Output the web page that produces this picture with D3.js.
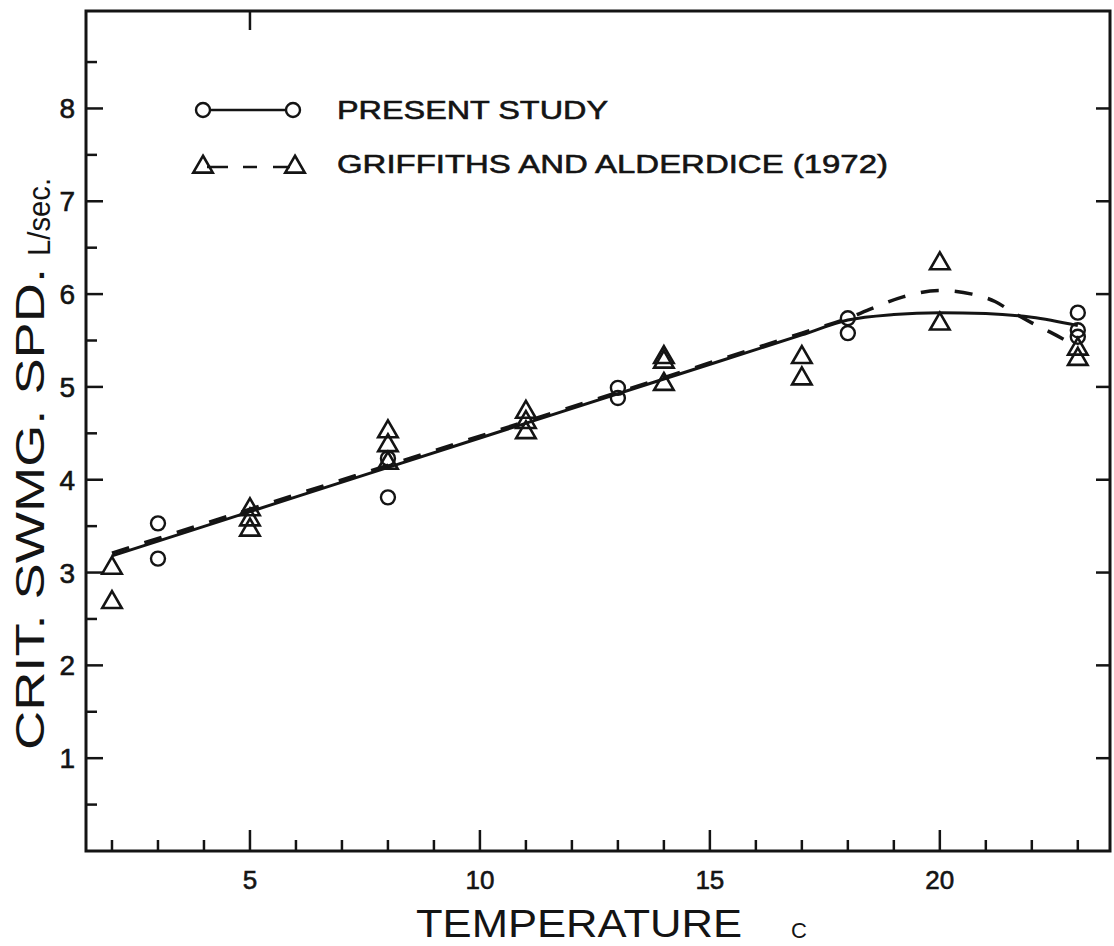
<!DOCTYPE html>
<html>
<head>
<meta charset="utf-8">
<script src="https://cdn.jsdelivr.net/npm/d3@7"></script>
<style>
  body { margin: 0; background: #fff; }
  svg text { font-family: "Liberation Sans", Arial, sans-serif; fill: #141414; }
  svg text.lbl { stroke: #141414; stroke-width: 0.6px; }
</style>
</head>
<body>
<div class="canvas"></div>
<script>
// critical swimming speed vs temperature
const presentTemp  = [3, 3, 8, 8, 13, 13, 18, 18, 23, 23, 23];
const presentSpeed = [3.53, 3.15, 4.23, 3.81, 4.99, 4.88, 5.74, 5.58, 5.80, 5.61, 5.54];

const griffTemp  = [2, 2, 5, 5, 5, 8, 8, 8, 11, 11, 11, 14, 14, 14, 17, 17, 20, 20, 23, 23];
const griffSpeed = [3.07, 2.70, 3.70, 3.59, 3.48, 4.54, 4.39, 4.20, 4.75, 4.64, 4.53,
                    5.34, 5.29, 5.05, 5.34, 5.11, 6.35, 5.70, 5.43, 5.32];

// fitted curves
const presentCurveT = [2, 6, 10, 14, 17, 18, 19, 20, 21, 22, 23];
const presentCurveV = [3.18, 3.815, 4.45, 5.085, 5.56, 5.72, 5.78, 5.80, 5.79, 5.75, 5.66];
const griffCurveT = [2, 6, 10, 14, 17, 18, 18.5, 19.2, 20, 20.7, 21.2, 21.6, 22, 22.4, 23];
const griffCurveV = [3.21, 3.84, 4.47, 5.10, 5.58, 5.74, 5.84, 5.97, 6.04, 6.0, 5.92, 5.80, 5.69, 5.59, 5.43];

const xMajor = [5, 10, 15, 20];
const xMinor = d3.range(2, 24);
const yMajor = [1, 2, 3, 4, 5, 6, 7, 8];
const yMinor = d3.range(0.5, 9, 0.5);

const legendNames = ['PRESENT  STUDY', 'GRIFFITHS  AND  ALDERDICE  (1972)'];

const ink = '#141414';
const dims = { width: 1114, height: 946 };
const plot = { left: 86, right: 1110, top: 11, bottom: 851 };

const svg = d3.select('.canvas')
    .append('svg')
    .attr('width', dims.width)
    .attr('height', dims.height);

const x = d3.scaleLinear().domain([1.435, 23.7]).range([plot.left, plot.right]);
const y = d3.scaleLinear().domain([0, 9.05]).range([plot.bottom, plot.top]);

// frame
svg.append('rect')
    .attr('x', plot.left).attr('y', plot.top)
    .attr('width', plot.right - plot.left)
    .attr('height', plot.bottom - plot.top)
    .attr('fill', 'none')
    .attr('stroke', ink)
    .attr('stroke-width', 3);

// bottom ticks, pointing up into the plot
svg.append('g').selectAll('line')
    .data(xMinor)
    .join('line')
    .attr('x1', d => x(d)).attr('x2', d => x(d))
    .attr('y1', plot.bottom)
    .attr('y2', d => plot.bottom - (xMajor.includes(d) ? 21 : 11))
    .attr('stroke', ink).attr('stroke-width', 2.5);

// single top tick at 5
svg.append('line')
    .attr('x1', x(5)).attr('x2', x(5))
    .attr('y1', plot.top).attr('y2', plot.top + 19)
    .attr('stroke', ink).attr('stroke-width', 2.5);

svg.append('g').selectAll('text')
    .data(xMajor)
    .join('text')
    .attr('class', 'lbl')
    .attr('x', d => x(d))
    .attr('y', 889)
    .attr('text-anchor', 'middle')
    .attr('font-size', 26)
    .text(d => d);

// left ticks
svg.append('g').selectAll('line')
    .data(yMinor)
    .join('line')
    .attr('x1', plot.left)
    .attr('x2', d => plot.left + (Number.isInteger(d) ? 17 : 11))
    .attr('y1', d => y(d)).attr('y2', d => y(d))
    .attr('stroke', ink).attr('stroke-width', 2.5);

// right ticks
svg.append('g').selectAll('line')
    .data(yMajor)
    .join('line')
    .attr('x1', plot.right)
    .attr('x2', plot.right - 14)
    .attr('y1', d => y(d)).attr('y2', d => y(d))
    .attr('stroke', ink).attr('stroke-width', 2.5);

svg.append('g').selectAll('text')
    .data(yMajor)
    .join('text')
    .attr('class', 'lbl')
    .attr('x', 75)
    .attr('y', d => y(d) + 10)
    .attr('text-anchor', 'end')
    .attr('font-size', 28)
    .text(d => d);

// axis titles
svg.append('text')
    .attr('x', 416).attr('y', 937)
    .attr('font-size', 38)
    .attr('textLength', 326)
    .attr('lengthAdjust', 'spacingAndGlyphs')
    .text('TEMPERATURE');

svg.append('text')
    .attr('x', 799).attr('y', 938)
    .attr('text-anchor', 'middle')
    .attr('font-size', 22)
    .text('C');

svg.append('text')
    .attr('transform', 'translate(44,750) rotate(-90)')
    .attr('font-size', 41)
    .attr('textLength', 482)
    .attr('lengthAdjust', 'spacingAndGlyphs')
    .text('CRIT.  SWMG.  SPD.');

svg.append('text')
    .attr('transform', 'translate(50,256) rotate(-90)')
    .attr('font-size', 32)
    .attr('textLength', 78)
    .attr('lengthAdjust', 'spacingAndGlyphs')
    .text('L/sec.');

// curves
const line = d3.line()
    .x(d => x(d[0]))
    .y(d => y(d[1]))
    .curve(d3.curveMonotoneX);

svg.append('path')
    .attr('d', line(d3.zip(presentCurveT, presentCurveV)))
    .attr('fill', 'none')
    .attr('stroke', ink)
    .attr('stroke-width', 3);

svg.append('path')
    .attr('d', line(d3.zip(griffCurveT, griffCurveV)))
    .attr('fill', 'none')
    .attr('stroke', ink)
    .attr('stroke-width', 3.5)
    .attr('stroke-dasharray', '18,16');

// markers
const tri = d3.symbol().type(d3.symbolTriangle).size(165);

const drawTriangles = (g, pts) => {
    g.selectAll('path')
        .data(pts)
        .join('path')
        .attr('d', tri)
        .attr('transform', d => `translate(${x(d[0])},${y(d[1]) + 2})`)
        .attr('fill', 'none')
        .attr('stroke', ink)
        .attr('stroke-width', 2.6)
        .attr('stroke-linejoin', 'miter');
};

const drawCircles = (g, pts) => {
    g.selectAll('circle')
        .data(pts)
        .join('circle')
        .attr('cx', d => x(d[0]))
        .attr('cy', d => y(d[1]))
        .attr('r', 7)
        .attr('fill', 'none')
        .attr('stroke', ink)
        .attr('stroke-width', 2.4);
};

drawTriangles(svg.append('g'), d3.zip(griffTemp, griffSpeed));
drawCircles(svg.append('g'), d3.zip(presentTemp, presentSpeed));

// legend
const legend = svg.append('g');

legend.append('line')
    .attr('x1', 210).attr('x2', 286)
    .attr('y1', 110).attr('y2', 110)
    .attr('stroke', ink).attr('stroke-width', 2.4);
legend.selectAll('circle')
    .data([203, 293])
    .join('circle')
    .attr('cx', d => d).attr('cy', 110).attr('r', 7)
    .attr('fill', 'none').attr('stroke', ink).attr('stroke-width', 2.4);

legend.append('line')
    .attr('x1', 207).attr('x2', 290)
    .attr('y1', 167).attr('y2', 167)
    .attr('stroke', ink).attr('stroke-width', 2.6)
    .attr('stroke-dasharray', '21,15,14,16,20');
legend.selectAll('path')
    .data([203, 295])
    .join('path')
    .attr('d', tri)
    .attr('transform', d => `translate(${d},167)`)
    .attr('fill', 'none').attr('stroke', ink).attr('stroke-width', 2.6);

legend.selectAll('text')
    .data(legendNames)
    .join('text')
    .attr('class', 'lbl')
    .attr('x', 337)
    .attr('y', (d, i) => 119 + i * 54)
    .attr('font-size', 26)
    .attr('textLength', (d, i) => i === 0 ? 271 : 551)
    .attr('lengthAdjust', 'spacingAndGlyphs')
    .text(d => d);
</script>
</body>
</html>
